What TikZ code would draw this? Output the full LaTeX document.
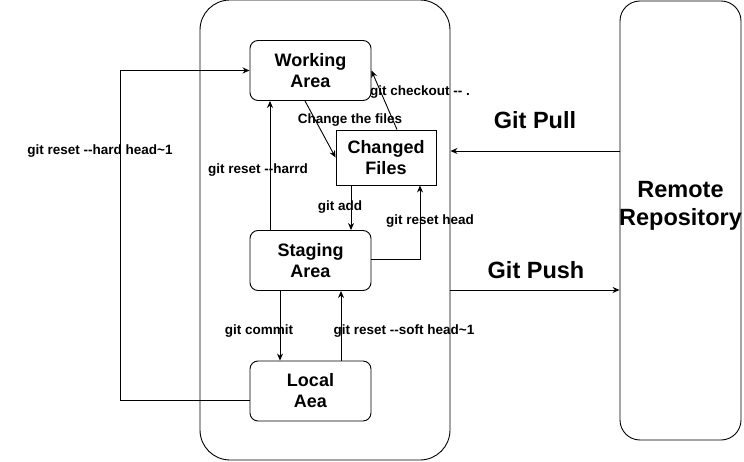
\documentclass[tikz,border=0pt]{standalone}
\usepackage{fontspec}
\setmainfont{Liberation Sans}
\usetikzlibrary{arrows.meta}
\tikzstyle{git flow}=[
    x=1pt, y=-1pt,
    line width=0.9pt,
    area box/.style={draw, rounded corners=8pt, minimum width=121pt, minimum height=60pt, align=center, font={\fontsize{18}{21}\selectfont\bfseries}},
    files box/.style={draw, minimum width=100pt, minimum height=55pt, align=center, font={\fontsize{18}{21}\selectfont\bfseries}},
    frame box/.style={draw, rounded corners=30pt, minimum width=250pt, minimum height=460pt},
    remote box/.style={draw, rounded corners=20pt, minimum width=121pt, minimum height=439pt, inner sep=0pt},
    cmd label/.style={font={\fontsize{13.5}{16}\selectfont\bfseries}},
    big label/.style={font={\fontsize{23.5}{28}\selectfont\bfseries}, align=center, inner sep=0pt},
    flow/.style={-{Stealth[length=7pt,width=6pt]}},
]

\begin{document}
\begin{tikzpicture}[git flow]

    \useasboundingbox (0,0) rectangle (744,462);

    % containers
    \node[frame box] (local repo) at (325,230) {};
    \node[remote box] (remote) at (680.5,220.5) {};
    \node[big label] (remote lbl) at (680.5,206) {Remote\\Repository};

    % areas
    \foreach \n/\y/\t in {working/70.5/{Working\\Area}, staging/260.5/{Staging\\Area}, local/391/{Local\\Aea}}
        \node[area box] (\n) at (310.5,\y) {\t};
    \node[files box] (changed) at (386,157.5) {Changed\\Files};

    % local transitions
    \draw[flow] ([xshift=-5.5pt]working.south) -- (changed.west);
    \draw[flow] ([xshift=11pt]changed.north) -- (working.east);
    \draw[flow] ([xshift=-40.5pt]staging.north) -- ([xshift=-40.5pt]working.south);
    \draw[flow] ([xshift=-35pt]changed.south) -- ([xshift=-35pt]changed.south |- staging.north);
    \draw[flow] ([yshift=1.5pt]staging.east) -| ([xshift=34pt]changed.south);
    \draw[flow] ([xshift=-30.5pt]staging.south) -- ([xshift=-30.5pt]local.north);
    \draw[flow] ([xshift=30.5pt]local.north) -- ([xshift=30.5pt]staging.south);
    \coordinate (hard bend) at (120,400);
    \draw[flow] ([yshift=-9pt]local.west) -- (hard bend) |- (working.west);

    % remote transitions
    \draw[flow] ([yshift=69.5pt]remote.west) -- ([yshift=69.5pt]remote.west -| local repo.east);
    \draw[flow] ([yshift=-60pt]local repo.east) -- ([yshift=-60pt]local repo.east -| remote.west);

    % labels
    \node[cmd label] (change lbl) at (350,120) {Change the files};
    \node[cmd label] (checkout lbl) at (420,92) {git checkout -{}- .};
    \node[cmd label] (harrd lbl) at (258,170) {git reset -{}-harrd};
    \node[cmd label] (add lbl) at (340,207) {git add};
    \node[cmd label] (head lbl) at (430,221) {git reset head};
    \node[cmd label] (commit lbl) at (259,331) {git commit};
    \node[cmd label] (soft lbl) at (404,331) {git reset -{}-soft head\textasciitilde1};
    \node[cmd label] (hard lbl) at (100,151) {git reset -{}-hard head\textasciitilde1};
    \node[big label] (pull lbl) at (535,120) {Git Pull};
    \node[big label] (push lbl) at (536,270) {Git Push};

\end{tikzpicture}
\end{document}
